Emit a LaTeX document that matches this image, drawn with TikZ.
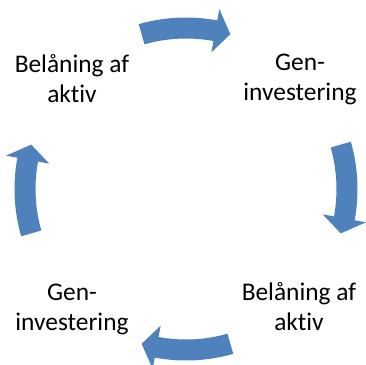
\documentclass[tikz,border=0pt]{standalone}
\usepackage{fontspec}
\setmainfont{Carlito}[Ligatures=NoCommon]
\usetikzlibrary{positioning}
\definecolor{cycleblue}{RGB}{79,129,189}
\tikzset{
  steptext/.style={
    align=center, inner sep=0mm, font=\fontsize{25.5}{30}\selectfont
  },
  cyclearrow/.style={
    fill=cycleblue, draw=none
  }
}
\begin{document}
\begin{tikzpicture}[x=1bp,y=1bp]
 \useasboundingbox (-186,-176) rectangle (180,189);
 \node[steptext] (laan1) at (-114,110) {Belåning af\\aktiv};
 \node[steptext] (gen1) at (114,110) {Gen-\\investering};
 \node[steptext] (laan2) at (113,-118) {Belåning af\\aktiv};
 \node[steptext] (gen2) at (-114,-120) {Gen-\\investering};

 \foreach \a in {90,0,-90,180} {
   \fill[cyclearrow] (\a+16:171.5) arc[start angle=\a+16, end angle=\a-10.5, radius=171.5]
     -- (\a-10.5:183) -- (\a-16:161) -- (\a-10.5:139) -- (\a-10.5:150.5)
     arc[start angle=\a-10.5, end angle=\a+16, radius=150.5] -- cycle;
  }
\end{tikzpicture}
\end{document}
